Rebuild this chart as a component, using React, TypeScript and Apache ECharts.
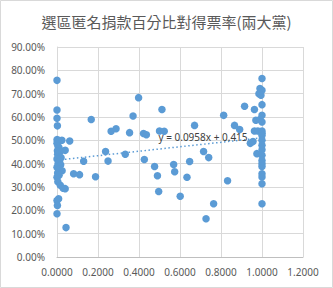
import React, { useEffect, useRef } from "react";
import * as echarts from "echarts";

const titleText = "選區匿名捐款百分比對得票率(兩大黨)";
const trendLabel = "y = 0.0958x + 0.415";

const xs = [
  0, 0, 0, 0.002, 0, 0.008, 0.024, 0.062, 0.04, 0, 0.005, 0.01, 0.002, 0.015, 0.003, 0.008, 0.02, 0, 0.012, 0.005,
  0.018, 0, 0.008, 0.025, 0.003, 0.01, 0, 0.004, 0.016, 0.04, 0.03, 0.008, 0, 0.002, 0, 0.044,
  0.081, 0.11, 0.13, 0.167, 0.188, 0.237, 0.249, 0.264, 0.288, 0.333, 0.354, 0.371, 0.398, 0.422, 0.436, 0.426,
  0.476, 0.49, 0.496, 0.5, 0.512, 0.523, 0.569, 0.574, 0.601, 0.634, 0.647, 0.671, 0.715, 0.74, 0.727, 0.764,
  0.813, 0.832, 0.866, 0.891, 0.915, 0.943, 0.956, 0.963, 0.963, 0.975, 0.97, 0.98,
  1, 0.99, 1, 0.985, 0.995, 1, 1, 0.99, 1, 1, 1, 1, 1, 1, 1, 1, 1, 1, 1, 1, 1, 1, 1,
];
const ys = [
  0.757, 0.63, 0.595, 0.562, 0.503, 0.5, 0.5, 0.497, 0.457, 0.487, 0.475, 0.468, 0.455, 0.45, 0.44, 0.43, 0.425, 0.42, 0.41, 0.4,
  0.395, 0.385, 0.375, 0.37, 0.36, 0.35, 0.342, 0.322, 0.307, 0.293, 0.295, 0.25, 0.242, 0.221, 0.185, 0.126,
  0.357, 0.353, 0.41, 0.589, 0.344, 0.452, 0.411, 0.539, 0.55, 0.44, 0.533, 0.604, 0.683, 0.529, 0.524, 0.418,
  0.388, 0.348, 0.281, 0.54, 0.632, 0.539, 0.396, 0.365, 0.26, 0.342, 0.409, 0.564, 0.452, 0.426, 0.164, 0.228,
  0.607, 0.327, 0.564, 0.546, 0.646, 0.487, 0.495, 0.632, 0.54, 0.443, 0.586, 0.54,
  0.765, 0.722, 0.715, 0.7, 0.693, 0.653, 0.607, 0.589, 0.579, 0.54, 0.53, 0.521, 0.5, 0.479, 0.46, 0.436, 0.414, 0.4, 0.388, 0.357, 0.343, 0.314, 0.228,
];
const trendX = [0, 1];
const trendY = [0.415, 0.5108];

export default function App() {
  const ref = useRef<HTMLDivElement>(null);
  useEffect(() => {
    if (!ref.current) return;
    const chart = echarts.init(ref.current, null, { renderer: "svg" });
    const labelColor = "#595959";
    const font = "'Noto Sans', sans-serif";
    chart.setOption({
      animation: false,
      backgroundColor: "#ffffff",
      title: {
        text: titleText,
        left: "center",
        top: 9,
        textStyle: {
          fontFamily: "'Noto Sans CJK TC', sans-serif",
          fontSize: 15,
          fontWeight: "normal",
          color: labelColor,
        },
      },
      grid: { left: 57, right: 30, top: 47, bottom: 31 },
      xAxis: {
        type: "value",
        min: 0,
        max: 1.2,
        interval: 0.2,
        axisLine: { show: true, lineStyle: { color: "#BFBFBF" } },
        axisTick: { show: false },
        splitLine: { show: true, lineStyle: { color: "#D9D9D9" } },
        axisLabel: {
          formatter: (v: number) => v.toFixed(4),
          color: labelColor,
          fontFamily: font,
          fontSize: 10,
          margin: 10,
        },
      },
      yAxis: {
        type: "value",
        min: 0,
        max: 0.9,
        interval: 0.1,
        axisLine: { show: true, lineStyle: { color: "#D9D9D9" } },
        axisTick: { show: false },
        splitLine: { show: true, lineStyle: { color: "#D9D9D9" } },
        axisLabel: {
          formatter: (v: number) => (v * 100).toFixed(2) + "%",
          color: labelColor,
          fontFamily: font,
          fontSize: 10,
          margin: 12,
        },
      },
      series: [
        {
          type: "scatter",
          symbolSize: 7.5,
          itemStyle: { color: "#5B9BD5", opacity: 1 },
          data: xs.map((x, i) => [x, ys[i]]),
          z: 3,
        },
        {
          type: "line",
          symbol: "none",
          lineStyle: { color: "#5B9BD5", width: 1.5, type: [1.5, 2.5] },
          data: trendX.map((x, i) => [x, trendY[i]]),
          z: 2,
        },
      ],
      graphic: [
        {
          type: "rect",
          shape: { x: 0.5, y: 0.5, width: 332, height: 287 },
          style: { fill: "none", stroke: "#D9D9D9", lineWidth: 1 },
          silent: true,
        },
        {
          type: "text",
          x: 203,
          y: 137,
          style: {
            text: trendLabel,
            fill: "#404040",
            fontFamily: font,
            fontSize: 10,
            align: "center",
            verticalAlign: "middle",
          },
          z: 10,
        },
      ],
    });
    return () => chart.dispose();
  }, []);
  return (
    <div
      ref={ref}
      style={{ position: "absolute", left: 0, top: 0, width: 333, height: 288 }}
    />
  );
}
